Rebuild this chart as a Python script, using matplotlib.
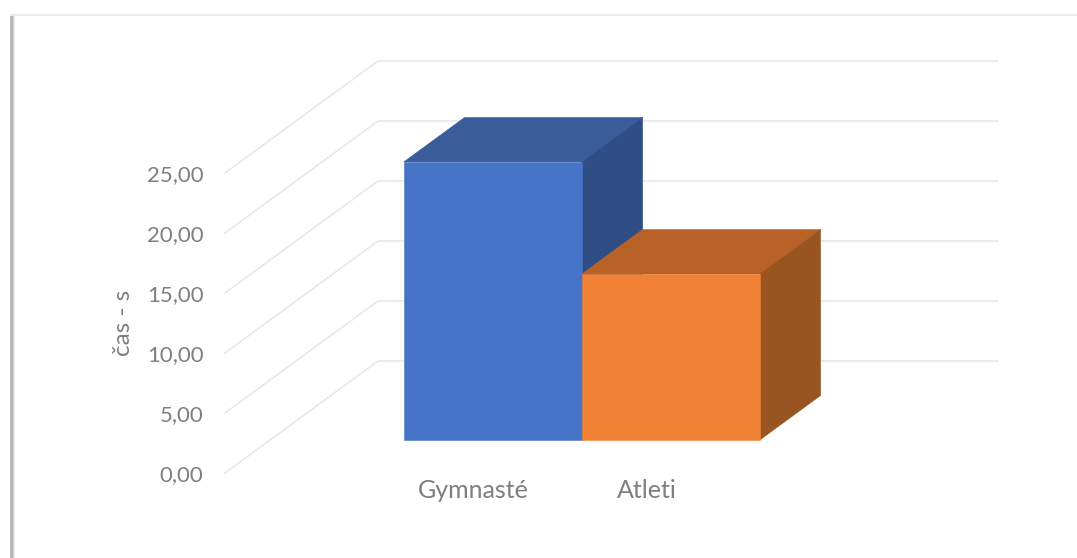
import matplotlib
matplotlib.use("Agg")
import matplotlib.pyplot as plt
from matplotlib.lines import Line2D

plt.rcParams['font.family'] = ['Lato', 'DejaVu Sans']

categories = ["Gymnasté", "Atleti"]
values = [23.17, 13.83]
y_ticks = [0, 5, 10, 15, 20, 25]
y_label = "čas - s"

front_colors = ["#4674C9", "#F08135"]
top_colors = ["#3A5C99", "#B86228"]
side_colors = ["#2F4E85", "#985522"]
grid_color = "#E6E6E6"
text_color = "#7F7F7F"

W, H = 1077, 558
left, right, bottom, top = 225, 845, 473, 173   # plot box in pixels
cat_px = 178.
depth_x = 153. / cat_px     # full depth of the floor, in category units
depth_y = 112. / 12.        # same in value units
bar_d0, bar_d1 = 0.295, 0.692
x0_px = 447.7               # first category centre


def pt(x, v, d):
    # oblique projection, depth d runs 0 (front) to 1 (back wall)
    return x + d * depth_x, v + d * depth_y


fig = plt.figure(figsize=(W / 100., H / 100.), dpi=100, facecolor="white")
ax = fig.add_axes([left / W, 1 - bottom / H, (right - left) / W, (bottom - top) / H])
ax.set_xlim((left - x0_px) / cat_px, (right - x0_px) / cat_px)
ax.set_ylim(0, 25)
ax.patch.set_visible(False)
for s in ax.spines.values():
    s.set_visible(False)

# window shadow of the screenshot
for xp, c, lw in [(13.5, "#EDEDED", 1.5), (12.5, "#D0D0D0", 1.5), (11, "#B4B4B4", 2.0)]:
    fig.add_artist(Line2D([xp / W, xp / W], [0, 1 - 15 / H], color=c, lw=lw))
fig.add_artist(Line2D([11 / W, 1], [1 - 15 / H, 1 - 15 / H], color="#EBEBEB", lw=1.5))

# walls
xa, xb = ax.get_xlim()
for v in y_ticks:
    p0 = pt(xa, v, 0)
    p1 = pt(xa, v, 1)
    p2 = pt(xb, v, 1)
    ax.plot([p0[0], p1[0], p2[0]], [p0[1], p1[1], p2[1]], color=grid_color, lw=1.1,
            clip_on=False, zorder=1, solid_joinstyle="miter")

# bars
for i, val in enumerate(values):
    xl, xr = i - 0.5, i + 0.5
    faces = [
        ([(xl, val, bar_d0), (xr, val, bar_d0), (xr, val, bar_d1), (xl, val, bar_d1)], top_colors[i]),
        ([(xr, 0, bar_d0), (xr, val, bar_d0), (xr, val, bar_d1), (xr, 0, bar_d1)], side_colors[i]),
        ([(xl, 0, bar_d0), (xr, 0, bar_d0), (xr, val, bar_d0), (xl, val, bar_d0)], front_colors[i]),
    ]
    for corners, col in faces:
        xy = [pt(*c) for c in corners]
        ax.fill([p[0] for p in xy], [p[1] for p in xy], facecolor=col, edgecolor=col,
                lw=0.4, clip_on=False, zorder=3 + i)

ax.set_yticks(y_ticks)
ax.yaxis.set_major_formatter(lambda v, pos: ("%.2f" % v).replace(".", ","))
ax.tick_params(axis="y", length=0, pad=15.5, labelsize=16, labelcolor=text_color)

ax.set_xticks([(473 - x0_px) / cat_px, (647 - x0_px) / cat_px])
ax.set_xticklabels(categories)
ax.tick_params(axis="x", length=0, pad=4.5, labelsize=18, labelcolor=text_color)

ax.set_ylabel(y_label, fontsize=17.5, color=text_color)
ax.yaxis.set_label_coords((134 - left) / (right - left), (bottom - 323) / (bottom - top))

fig.savefig("out.png", dpi=100, facecolor="white")
